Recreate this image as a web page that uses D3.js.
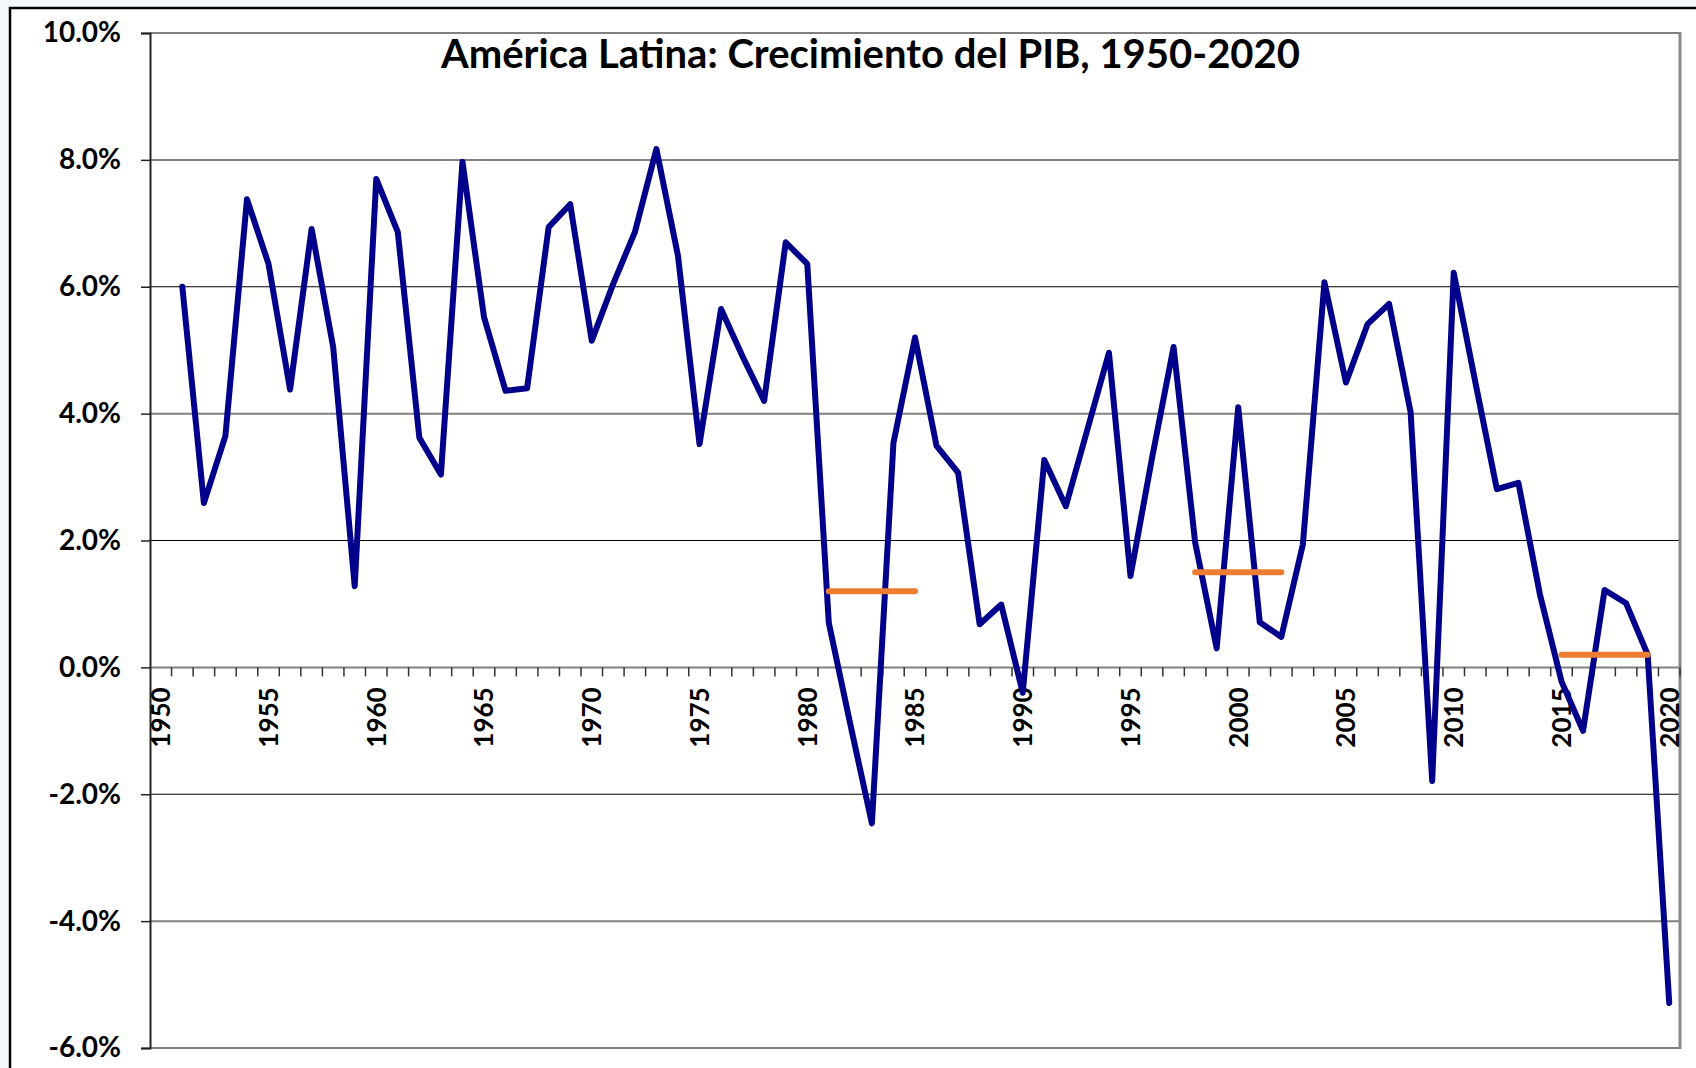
<!DOCTYPE html>
<html>
<head>
<meta charset="utf-8">
<script src="https://cdn.jsdelivr.net/npm/d3@7"></script>
<style>
  html, body { margin: 0; padding: 0; background: #f4f8fc; }
  svg { display: block; }
  text { font-family: Lato, "Open Sans", sans-serif; font-weight: bold; fill: #000; }
</style>
</head>
<body>
<div id="chart"></div>
<script>
'use strict';

// categories: one per year, the first year has no value
const years = d3.range(1950, 2021);

// GDP growth (%) for 1951..2020
const growth = [
    6.00, 2.59, 3.65, 7.38, 6.36, 4.38, 6.91, 5.05, 1.28, 7.70,
    6.86, 3.62, 3.04, 7.97, 5.52, 4.36, 4.40, 6.94, 7.30, 5.15,
    6.05, 6.86, 8.17, 6.49, 3.52, 5.65, 4.90, 4.20, 6.70, 6.36,
    0.70, -0.90, -2.46, 3.54, 5.20, 3.49, 3.07, 0.68, 0.99, -0.40,
    3.27, 2.54, 3.75, 4.96, 1.44, 3.30, 5.05, 1.97, 0.30, 4.10,
    0.71, 0.48, 1.94, 6.07, 4.49, 5.41, 5.73, 4.02, -1.79, 6.22,
    4.50, 2.81, 2.91, 1.15, -0.22, -1.00, 1.22, 1.01, 0.20, -5.29
];
const growthYears = years.slice(1);

// period averages (orange bars)
const avgStart = [1981, 1998, 2015];
const avgEnd = [1985, 2002, 2019];
const avgValue = [1.2, 1.5, 0.2];

const yTicks = [-6, -4, -2, 0, 2, 4, 6, 8, 10];
const xLabelYears = [1950, 1955, 1960, 1965, 1970, 1975, 1980, 1985, 1990, 1995, 2000, 2005, 2010, 2015, 2020];
const darkGrid = [6, 2, -2];

const title = 'América Latina: Crecimiento del PIB, 1950-2020';

const W = 1696, H = 1068;
const plot = {left: 150, right: 1680, top: 33, bottom: 1048};

const svg = d3.select('#chart').append('svg')
    .attr('width', W)
    .attr('height', H);

// white chart area with black frame
svg.append('rect')
    .attr('x', 10).attr('y', 8)
    .attr('width', W + 20).attr('height', H + 20)
    .attr('fill', '#fff')
    .attr('stroke', '#000')
    .attr('stroke-width', 2.5);

const x = d3.scaleBand()
    .domain(years)
    .range([plot.left, plot.right])
    .padding(0);

const y = d3.scaleLinear()
    .domain([-6, 10])
    .range([plot.bottom, plot.top]);

const cx = d => x(d) + x.bandwidth() / 2;

// gridlines
svg.append('g')
    .selectAll('line')
    .data(yTicks)
    .join('line')
      .attr('x1', plot.left)
      .attr('x2', plot.right)
      .attr('y1', d => y(d))
      .attr('y2', d => y(d))
      .attr('stroke', d => darkGrid.includes(d) ? '#000' : '#808080')
      .attr('stroke-width', d => darkGrid.includes(d) ? 1.2 : 2);

// right border
svg.append('line')
    .attr('x1', plot.right).attr('x2', plot.right)
    .attr('y1', plot.top - 1).attr('y2', plot.bottom + 1)
    .attr('stroke', '#888')
    .attr('stroke-width', 3);

// y axis
const yAxis = svg.append('g')
    .attr('transform', `translate(${plot.left},0)`)
    .call(d3.axisLeft(y)
        .tickValues(yTicks)
        .tickSize(9)
        .tickPadding(20)
        .tickFormat(d => d.toFixed(1) + '%'));
yAxis.select('.domain').attr('stroke', '#222').attr('stroke-width', 2);
yAxis.selectAll('.tick line').attr('stroke', '#222').attr('stroke-width', 1.5);
yAxis.selectAll('.tick text')
    .style('font-size', '28px')
    .style('font-family', 'Lato, sans-serif')
    .style('font-weight', 'bold');

// x axis on the zero line: ticks between categories
const xAxis = svg.append('g');
xAxis.selectAll('line')
    .data(years.slice(1).concat([null]))
    .join('line')
      .attr('x1', d => d === null ? plot.right : x(d))
      .attr('x2', d => d === null ? plot.right : x(d))
      .attr('y1', y(0))
      .attr('y2', y(0) + 9)
      .attr('stroke', '#333')
      .attr('stroke-width', 1.5);

xAxis.selectAll('text')
    .data(xLabelYears)
    .join('text')
      .attr('transform', d => `translate(${cx(d)},${y(0) + 20}) rotate(-90)`)
      .attr('text-anchor', 'end')
      .attr('dy', '0.36em')
      .style('font-size', '26px')
      .text(d => d);

// title
svg.append('text')
    .attr('x', 441)
    .attr('y', 68)
    .style('font-size', '40px')
    .text(title);

// series line
const line = d3.line()
    .x((d, i) => cx(growthYears[i]))
    .y(d => y(d));

svg.append('path')
    .datum(growth)
    .attr('d', line)
    .attr('fill', 'none')
    .attr('stroke', '#00008B')
    .attr('stroke-width', 6)
    .attr('stroke-linejoin', 'round')
    .attr('stroke-linecap', 'round');

// period averages
svg.append('g')
    .selectAll('line')
    .data(avgValue)
    .join('line')
      .attr('x1', (d, i) => cx(avgStart[i]))
      .attr('x2', (d, i) => cx(avgEnd[i]))
      .attr('y1', d => y(d))
      .attr('y2', d => y(d))
      .attr('stroke', '#ED7D31')
      .attr('stroke-width', 6)
      .attr('stroke-linecap', 'round');
</script>
</body>
</html>
